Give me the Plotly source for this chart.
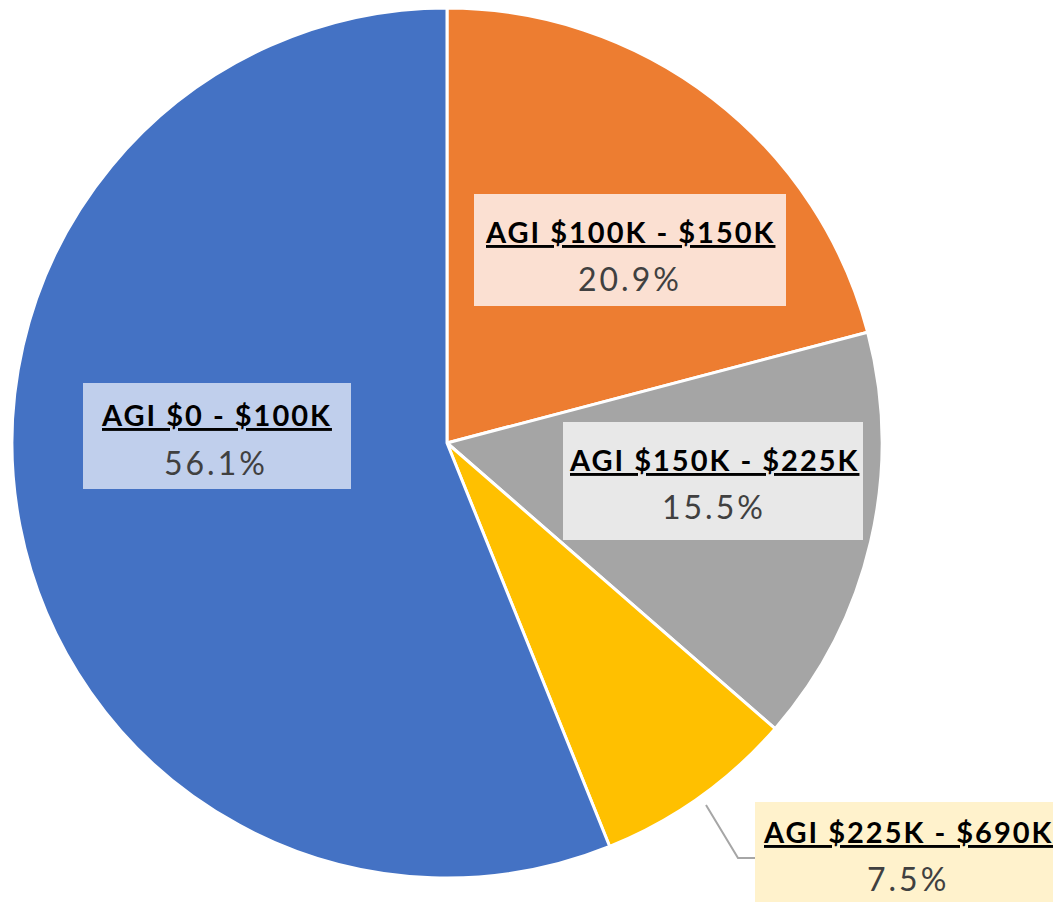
import plotly.graph_objects as go

labels = ["AGI $100K - $150K", "AGI $150K - $225K", "AGI $225K - $690K", "AGI $0 - $100K"]
values = [20.9, 15.5, 7.5, 56.1]
pct_text = ["20.9%", "15.5%", "7.5%", "56.1%"]
colors = ["#ED7D31", "#A5A5A5", "#FFC000", "#4472C4"]
box_colors = ["#FBE0D2", "#E8E8E8", "#FFF2CC", "#C0CFEC"]

W, H = 1053, 902

def px(x):
    return x / W

def py(y):
    return 1 - y / H

fig = go.Figure()
cx, cy, r = 447, 443, 435
fig.add_trace(go.Pie(
    labels=labels, values=values, sort=False, direction="clockwise", rotation=0,
    marker=dict(colors=colors, line=dict(color="white", width=3)),
    textinfo="none", hoverinfo="skip", showlegend=False,
    domain=dict(x=[px(cx - r), px(cx + r)], y=[py(cy + r), py(cy - r)]),
))

# label boxes (pixel extents) and text centers
boxes = [(474, 194, 786, 306), (563, 422, 863, 540), (755, 802, 1070, 910), (83, 383, 351, 489)]
centers = [(630, 231, 278), (714, 459, 506), (908, 831, 878), (216, 414, 462)]

shapes = []
annotations = []
for i in range(4):
    x0, y0, x1, y1 = boxes[i]
    shapes.append(dict(type="rect", xref="paper", yref="paper",
                       x0=px(x0), x1=px(x1), y0=py(y1), y1=py(y0),
                       fillcolor=box_colors[i], line=dict(width=0), layer="above"))
    tx, ty1, ty2 = centers[i]
    annotations.append(dict(x=px(tx), y=py(ty1), xref="paper", yref="paper",
                            text="<span style='letter-spacing:2px'><b>" + labels[i] + "</b></span>",
                            showarrow=False,
                            font=dict(family="Lato", size=29, color="black", lineposition="under"),
                            xanchor="center", yanchor="middle"))
    annotations.append(dict(x=px(tx), y=py(ty2), xref="paper", yref="paper",
                            text="<span style='letter-spacing:3px'>" + pct_text[i] + "</span>",
                            showarrow=False,
                            font=dict(family="Lato", size=32, color="#404040"),
                            xanchor="center", yanchor="middle"))

# leader line for small slice
shapes.append(dict(type="path", xref="paper", yref="paper",
                   path=f"M {px(706)},{py(805)} L {px(738)},{py(858)} L {px(755)},{py(858)}",
                   line=dict(color="#A6A6A6", width=2)))

fig.update_layout(width=W, height=H, margin=dict(l=0, r=0, t=0, b=0),
                  paper_bgcolor="white", plot_bgcolor="white",
                  shapes=shapes, annotations=annotations)
fig.write_html("out.html", config={"displayModeBar": False},
               post_script="document.body.style.margin='0';document.body.style.overflow='hidden';")
